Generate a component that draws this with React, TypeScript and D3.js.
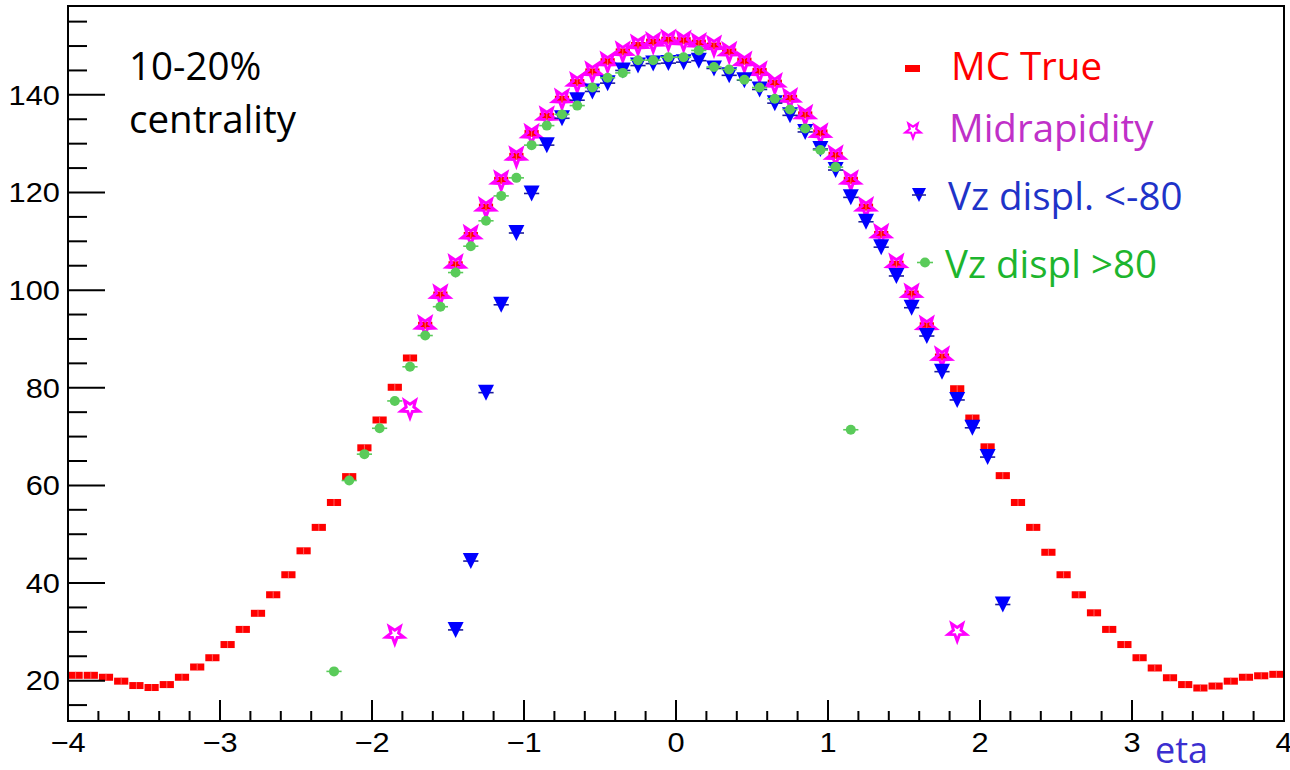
import React, { useEffect, useRef } from "react";
import * as d3 from "d3";

// bin centres of the eta histogram (80 bins, -4..4)
const etaBins = [
  -3.95, -3.85, -3.75, -3.65, -3.55, -3.45, -3.35, -3.25, -3.15, -3.05,
  -2.95, -2.85, -2.75, -2.65, -2.55, -2.45, -2.35, -2.25, -2.15, -2.05,
  -1.95, -1.85, -1.75, -1.65, -1.55, -1.45, -1.35, -1.25, -1.15, -1.05,
  -0.95, -0.85, -0.75, -0.65, -0.55, -0.45, -0.35, -0.25, -0.15, -0.05,
  0.05, 0.15, 0.25, 0.35, 0.45, 0.55, 0.65, 0.75, 0.85, 0.95,
  1.05, 1.15, 1.25, 1.35, 1.45, 1.55, 1.65, 1.75, 1.85, 1.95,
  2.05, 2.15, 2.25, 2.35, 2.45, 2.55, 2.65, 2.75, 2.85, 2.95,
  3.05, 3.15, 3.25, 3.35, 3.45, 3.55, 3.65, 3.75, 3.85, 3.95,
];

// MC True, all 80 bins
const mcTrue = [
  21.1, 21.1, 20.7, 19.9, 19.0, 18.6, 19.2, 20.7, 22.8, 24.7,
  27.4, 30.5, 33.8, 37.6, 41.7, 46.6, 51.4, 56.5, 61.8, 67.7,
  73.4, 80.1, 86.1, 92.8, 99.0, 105.2, 111.2, 117.0, 122.5, 127.4,
  132.1, 135.6, 139.1, 142.5, 144.7, 146.8, 148.8, 150.1, 150.8, 151.2,
  151.1, 150.6, 150.0, 148.8, 146.9, 144.8, 142.4, 139.3, 135.9, 132.2,
  127.6, 122.5, 117.0, 111.4, 105.3, 99.2, 92.7, 86.3, 79.8, 73.8,
  67.9, 62.0, 56.5, 51.4, 46.3, 41.7, 37.6, 33.9, 30.5, 27.4,
  24.7, 22.6, 20.6, 19.2, 18.5, 18.9, 19.9, 20.7, 21.0, 21.3,
];

// Midrapidity, bins -1.85 .. 1.85
const midEta = etaBins.slice(21, 59);
const midrapidity = [
  29.5, 75.8, 92.8, 99.1, 105.3, 111.3, 117.0, 122.5, 127.4, 132.0,
  135.6, 139.2, 142.6, 144.8, 146.8, 148.9, 150.3, 150.8, 151.3, 151.1,
  150.6, 150.1, 148.8, 146.8, 144.8, 142.4, 139.3, 135.9, 132.1, 127.6,
  122.5, 117.0, 111.5, 105.4, 99.3, 92.7, 86.4, 30.1,
];

// Vz displ. < -80, bins -1.45 .. 2.15
const vzNegEta = etaBins.slice(25, 62);
const vzNeg = [
  30.4, 44.5, 79.0, 97.0, 111.7, 119.8, 129.7, 135.2, 138.9, 140.7,
  142.4, 145.0, 146.0, 146.4, 146.5, 146.7, 147.0, 145.4, 144.0, 143.0,
  141.1, 138.3, 135.8, 132.4, 128.9, 124.6, 119.0, 114.0, 108.8, 102.9,
  96.4, 90.6, 83.3, 77.5, 71.8, 65.8, 35.6,
];

// Vz displ > 80, bins -2.25 .. 1.15
const vzPosEta = etaBins.slice(17, 52);
const vzPos = [
  21.9, 61.0, 66.4, 71.7, 77.3, 84.3, 90.7, 96.6, 103.6, 109.0,
  114.2, 119.3, 123.0, 129.7, 133.7, 136.0, 137.8, 141.5, 143.5, 144.5,
  147.1, 147.1, 147.7, 147.7, 149.1, 145.7, 145.2, 143.1, 141.5, 139.2,
  137.0, 133.1, 128.7, 125.2, 71.4,
];

const xTicks = [-4, -3, -2, -1, 0, 1, 2, 3, 4];
const yTicks = [20, 40, 60, 80, 100, 120, 140];

const W = 1290;
const H = 770;
const tickFont = "'Liberation Sans', Arial, sans-serif";
const textFont = "'Open Sans', 'Noto Sans', sans-serif";

// open five-pointed star, one point down
function starPath(r: number) {
  const pts: [number, number][] = [];
  for (let i = 0; i < 10; i++) {
    const a = Math.PI / 2 + (i * Math.PI) / 5;
    const rr = i % 2 === 0 ? r : r * 0.42;
    pts.push([rr * Math.cos(a), rr * Math.sin(a)]);
  }
  return "M" + pts.map((p) => p.join(",")).join("L") + "Z";
}

export default function App() {
  const ref = useRef<SVGSVGElement>(null);

  useEffect(() => {
    const svg = d3.select(ref.current);
    svg.selectAll("*").remove();

    const left = 68, right = 1284, top = 6, bottom = 721;
    const x = d3.scaleLinear().domain([-4, 4]).range([left, right]);
    const y = d3.scaleLinear().domain([11.74, 158.2]).range([bottom, top]);

    svg.append("rect").attr("width", W).attr("height", H).attr("fill", "#fff");

    // ---- markers ----
    // MC True: red boxes one bin wide
    const bw = x(0.1) - x(0) - 1;
    const mc = svg.append("g");
    mc.selectAll("rect")
      .data(mcTrue)
      .join("rect")
      .attr("x", (d, i) => x(etaBins[i]) - bw / 2)
      .attr("y", (d) => y(d) - 3.5)
      .attr("width", bw)
      .attr("height", 7)
      .attr("fill", "#ff0000");
    mc.selectAll("line")
      .data(mcTrue)
      .join("line")
      .attr("x1", (d, i) => x(etaBins[i]))
      .attr("x2", (d, i) => x(etaBins[i]))
      .attr("y1", (d) => y(d) - 3.5)
      .attr("y2", (d) => y(d) + 3.5)
      .attr("stroke", "#ff7a7a")
      .attr("stroke-width", 0.8);

    // Midrapidity: open magenta stars
    svg.append("g")
      .selectAll("path")
      .data(midrapidity)
      .join("path")
      .attr("d", starPath(9.5))
      .attr("transform", (d, i) => `translate(${x(midEta[i])},${y(d)})`)
      .attr("fill", "none")
      .attr("stroke", "#ff00ff")
      .attr("stroke-width", 3)
      .attr("stroke-linejoin", "miter");

    // Vz displ. < -80: blue down triangles with x error stubs
    const neg = svg.append("g");
    neg.selectAll("line")
      .data(vzNeg)
      .join("line")
      .attr("x1", (d, i) => x(vzNegEta[i] - 0.05))
      .attr("x2", (d, i) => x(vzNegEta[i] + 0.05))
      .attr("y1", (d) => y(d))
      .attr("y2", (d) => y(d))
      .attr("stroke", "#1c1c9c")
      .attr("stroke-width", 1.6);
    neg.selectAll("path")
      .data(vzNeg)
      .join("path")
      .attr("d", "M-8,-8L8,-8L0,8Z")
      .attr("transform", (d, i) => `translate(${x(vzNegEta[i])},${y(d)})`)
      .attr("fill", "#0000ff");

    // Vz displ > 80: green dots with x error stubs
    const pos = svg.append("g");
    pos.selectAll("line")
      .data(vzPos)
      .join("line")
      .attr("x1", (d, i) => x(vzPosEta[i] - 0.05))
      .attr("x2", (d, i) => x(vzPosEta[i] + 0.05))
      .attr("y1", (d) => y(d))
      .attr("y2", (d) => y(d))
      .attr("stroke", "#5acb5a")
      .attr("stroke-width", 1.6);
    pos.selectAll("circle")
      .data(vzPos)
      .join("circle")
      .attr("cx", (d, i) => x(vzPosEta[i]))
      .attr("cy", (d) => y(d))
      .attr("r", 5)
      .attr("fill", "#5acb5a");

    // ---- frame and axes ----
    svg.append("rect")
      .attr("x", left).attr("y", top)
      .attr("width", right - left).attr("height", bottom - top)
      .attr("fill", "none").attr("stroke", "#000").attr("stroke-width", 2);

    const xMinor = d3.range(-40, 41, 2).map((v) => v / 10);
    svg.append("g")
      .selectAll("line")
      .data(xMinor)
      .join("line")
      .attr("x1", (d) => x(d)).attr("x2", (d) => x(d))
      .attr("y1", bottom)
      .attr("y2", (d) => (Math.abs(d - Math.round(d)) < 1e-6 ? bottom - 21 : bottom - 10))
      .attr("stroke", "#000").attr("stroke-width", 2);

    const yMinor = d3.range(15, 156, 5);
    svg.append("g")
      .selectAll("line")
      .data(yMinor)
      .join("line")
      .attr("y1", (d) => y(d)).attr("y2", (d) => y(d))
      .attr("x1", left)
      .attr("x2", (d) => (d % 20 === 0 ? left + 37 : left + 19))
      .attr("stroke", "#000").attr("stroke-width", 2);

    svg.append("g")
      .selectAll("text")
      .data(xTicks)
      .join("text")
      .attr("transform", (d) => `translate(${x(d)},752) scale(1.12,1)`)
      .attr("text-anchor", "middle")
      .style("font-family", tickFont)
      .style("font-size", "27.5px")
      .text((d) => (d < 0 ? "\u2212" + Math.abs(d) : String(d)));

    svg.append("g")
      .selectAll("text")
      .data(yTicks)
      .join("text")
      .attr("transform", (d) => `translate(60,${y(d) + 9.8}) scale(1.12,1)`)
      .attr("text-anchor", "end")
      .style("font-family", tickFont)
      .style("font-size", "27.5px")
      .text((d) => String(d));

    // axis title
    svg.append("text")
      .attr("x", 1155).attr("y", 763)
      .style("font-family", textFont).style("font-size", "36px")
      .attr("fill", "#3b2fd0")
      .text("eta");

    // centrality label
    const lab = svg.append("g").style("font-family", textFont).style("font-size", "38.5px");
    lab.append("text").attr("x", 129).attr("y", 80).text("10-20%");
    lab.append("text").attr("x", 129).attr("y", 133).text("centrality");

    // ---- legend ----
    const leg = svg.append("g").style("font-family", textFont).style("font-size", "38.5px");
    leg.append("rect").attr("x", 905).attr("y", 65).attr("width", 15).attr("height", 7).attr("fill", "#ff0000");
    leg.append("text").attr("x", 951).attr("y", 80).attr("fill", "#ff0000").text("MC True");

    leg.append("path").attr("d", starPath(8)).attr("transform", "translate(913,130)")
      .attr("fill", "none").attr("stroke", "#ff00ff").attr("stroke-width", 2.2);
    leg.append("text").attr("x", 949).attr("y", 142).attr("fill", "#c030c8").text("Midrapidity");

    leg.append("path").attr("d", "M-7,-7L7,-7L0,7Z").attr("transform", "translate(919,195)").attr("fill", "#0000ff");
    leg.append("line").attr("x1", 912).attr("x2", 926).attr("y1", 195).attr("y2", 195)
      .attr("stroke", "#1c1c9c").attr("stroke-width", 1.5);
    leg.append("text").attr("x", 948).attr("y", 210).attr("fill", "#1f33c8").text("Vz displ. <-80");

    leg.append("line").attr("x1", 917).attr("x2", 933).attr("y1", 262.5).attr("y2", 262.5)
      .attr("stroke", "#5acb5a").attr("stroke-width", 1.6);
    leg.append("circle").attr("cx", 925).attr("cy", 262.5).attr("r", 5).attr("fill", "#5acb5a");
    leg.append("text").attr("x", 945).attr("y", 278).attr("fill", "#1db52e").text("Vz displ >80");
  }, []);

  return (
    <svg
      ref={ref}
      width={W}
      height={H}
      style={{ position: "absolute", left: 0, top: 0, display: "block" }}
    />
  );
}
